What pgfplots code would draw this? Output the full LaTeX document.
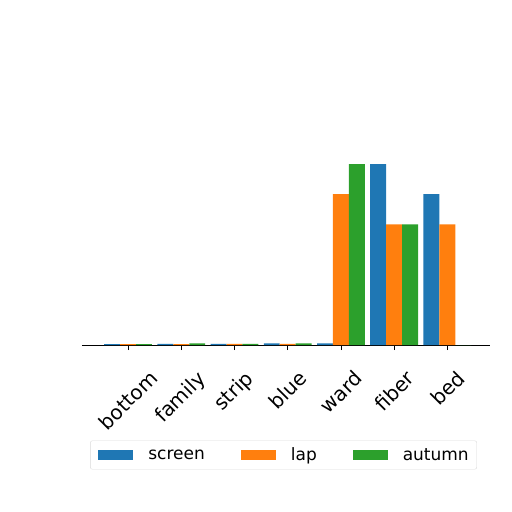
\documentclass[border=0pt]{standalone}
\usepackage{fontspec}
\setmainfont{DejaVu Sans}
\usepackage{pgfplots}
\pgfplotsset{compat=1.18}
\definecolor{cscreen}{HTML}{1F77B4}
\definecolor{clap}{HTML}{FF7F0E}
\definecolor{cautumn}{HTML}{2CA02C}
% centre a 45-degree label under its tick, as matplotlib does
\newdimen\lblw \newdimen\lblh \newdimen\lbld \newdimen\lbls
\newcommand\rl[1]{%
  \setbox0\hbox{#1}\lblw=\wd0 \lblh=\ht0 \lbld=\dp0
  \lbls=\dimexpr(\lblw-\lblh-\lbld)/4\relax
  \raisebox{-\lbls}[\lblh][\lbld]{\box0\hspace*{-\lbls}}}
\begin{document}
\begin{tikzpicture}[x=1pt,y=1pt]
  \useasboundingbox (0,0) rectangle (512,512);
  \begin{axis}[
    at={(82pt,167pt)}, anchor=south west,
    scale only axis, width=408pt, height=190pt,
    xmin=-0.865, xmax=6.8, ymin=0, ymax=6.3,
    axis y line=none,
    axis x line=bottom,
    axis line style={-, black, line width=0.8pt},
    xtick={0,1,2,3,4,5,6},
    xticklabels={\rl{bottom},\rl{family},\rl{strip},\rl{blue},\rl{ward},\rl{fiber},\rl{bed}},
    xtick style={black, line width=0.8pt},
    major tick length=5pt,
    tick align=outside,
    x tick label style={yshift=-19pt, rotate=45, anchor=north east, inner sep=0pt,
      font=\fontsize{20}{24}\selectfont},
    legend columns=3,
    legend style={at={(0.494,-0.579)}, anchor=center, draw=black!15, rounded corners=2pt,
      inner xsep=8pt, inner ysep=7pt,
      font=\fontsize{17}{20}\selectfont,
      nodes={inner sep=0pt},
      /tikz/every odd column/.append style={column sep=15pt},
      /tikz/every even column/.append style={column sep=36pt}},
    legend image code/.code={\fill[#1, sharp corners] (0pt,-5pt) rectangle (35pt,5pt);},
  ]
  \addplot[ybar, bar width=0.3, bar shift=-0.3, fill=cscreen, draw=none]
    coordinates {(0,0.03)(1,0.04)(2,0.04)(3,0.05)(4,0.05)(5,6.0)(6,5.0)};
  \addlegendentry{screen}
  \addplot[ybar, bar width=0.3, bar shift=0, fill=clap, draw=none]
    coordinates {(0,0.03)(1,0.03)(2,0.04)(3,0.04)(4,5.0)(5,4.0)(6,4.0)};
  \addlegendentry{lap}
  \addplot[ybar, bar width=0.3, bar shift=0.3, fill=cautumn, draw=none]
    coordinates {(0,0.03)(1,0.05)(2,0.04)(3,0.05)(4,6.0)(5,4.0)(6,0)};
  \addlegendentry{autumn}
  \end{axis}
\end{tikzpicture}
\end{document}
